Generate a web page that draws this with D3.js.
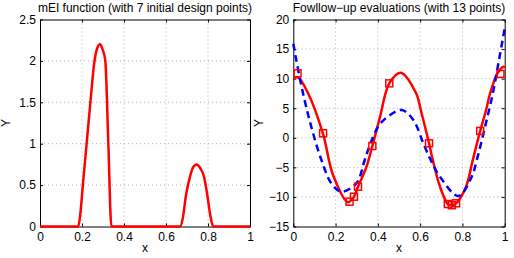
<!DOCTYPE html>
<html>
<head>
<meta charset="utf-8">
<script src="https://cdn.jsdelivr.net/npm/d3@7"></script>
<style>
  body { margin: 0; background: #fff; }
  svg text { font-family: "Liberation Sans", Arial, sans-serif; fill: #000; }
</style>
</head>
<body>
<svg id="chart" width="514" height="258"></svg>
<script>
// left panel: mEI function
const meiX = [0, 0.182, 0.192, 0.204, 0.222, 0.240, 0.258, 0.272, 0.286, 0.298, 0.311, 0.3255, 0.340,
  0.667, 0.68, 0.695, 0.714, 0.73, 0.746, 0.762, 0.781, 0.797, 0.812, 0.825, 1]
const meiY = [0, 0, 0.15, 0.5, 1.0, 1.5, 1.97, 2.15, 2.2, 2.14, 2.0, 1.0, 0,
  0, 0.1, 0.375, 0.6, 0.72, 0.75, 0.71, 0.6, 0.375, 0.12, 0, 0]

// right panel: fitted model (red)
const fitX = [0, 0.022, 0.07, 0.141, 0.188, 0.259, 0.287, 0.306, 0.346, 0.374, 0.41,
  0.454, 0.508, 0.581, 0.603, 0.623, 0.642, 0.66, 0.694, 0.731, 0.750, 0.770, 0.817, 0.849, 0.884, 0.912, 0.931,
  0.966, 0.994, 1]
const fitY = [10.06, 10.2, 7.52, 0.6, -6.3, -10.9, -9.96, -8.27, -4.9, -1.39, 3.5,
  9.2, 11.0, 7.52, 4.7, 1.87, -0.93, -3.76, -8.27, -11.2, -11.4, -11.08, -8.27, -3.76, 1.15, 4.7, 7.52,
  10.9, 12.0, 11.85]

// right panel: true function (blue dashed)
const trueX = [0, 0.014, 0.046, 0.085, 0.133, 0.18, 0.227, 0.298, 0.338, 0.365, 0.401, 0.434, 0.513, 0.568,
  0.615, 0.65, 0.694, 0.781, 0.844, 0.868, 0.907, 0.944, 0.973, 1]
const trueY = [15.9, 13.15, 7.52, 1.87, -3.76, -7.7, -9.1, -7.7, -3.76, -0.93, 1.87, 3.2, 4.7, 3.0,
  -0.93, -3.76, -6.58, -9.85, -6.58, -3.76, 1.87, 7.52, 13.15, 18.5]

// evaluated points (squares)
const ptX = [0.02, 0.141, 0.266, 0.287, 0.306, 0.374, 0.454, 0.642, 0.731, 0.750, 0.770, 0.884, 0.98]
const ptY = [10.9, 0.76, -10.8, -9.96, -8.27, -1.39, 9.2, -0.93, -11.2, -11.4, -11.08, 1.15, 10.8]

const xTicks = [0, 0.2, 0.4, 0.6, 0.8, 1]
const meiTicks = [0, 0.5, 1, 1.5, 2, 2.5]
const evalTicks = [-15, -10, -5, 0, 5, 10, 15, 20]

const svg = d3.select('#chart')

function panel(left, right, yDomain, yTicks, title) {
  const top = 19.5, bottom = 226.5
  const x = d3.scaleLinear().domain([0, 1]).range([left, right])
  const y = d3.scaleLinear().domain(yDomain).range([bottom, top])
  const g = svg.append('g')

  // dotted grid
  g.selectAll('.gx').data(xTicks.slice(1, -1)).join('line')
    .attr('x1', d => x(d)).attr('x2', d => x(d)).attr('y1', top).attr('y2', bottom)
    .attr('stroke', '#b0b0b0').attr('stroke-width', 1).attr('stroke-dasharray', '1,3')
  g.selectAll('.gy').data(yTicks.slice(1, -1)).join('line')
    .attr('y1', d => y(d)).attr('y2', d => y(d)).attr('x1', left).attr('x2', right)
    .attr('stroke', '#b0b0b0').attr('stroke-width', 1).attr('stroke-dasharray', '1,3')

  // axes, ticks inward on all four sides
  const fmt = d => d3.format('')(d).replace('-', '\u2212')
  g.append('g').attr('transform', `translate(0,${bottom})`)
    .call(d3.axisBottom(x).tickValues(xTicks).tickSizeInner(-3).tickSizeOuter(0).tickPadding(6).tickFormat(fmt))
  g.append('g').attr('transform', `translate(0,${top})`)
    .call(d3.axisTop(x).tickValues(xTicks).tickSizeInner(-3).tickSizeOuter(0).tickFormat(''))
  g.append('g').attr('transform', `translate(${left},0)`)
    .call(d3.axisLeft(y).tickValues(yTicks).tickSizeInner(-3).tickSizeOuter(0).tickPadding(4).tickFormat(fmt))
  g.append('g').attr('transform', `translate(${right},0)`)
    .call(d3.axisRight(y).tickValues(yTicks).tickSizeInner(-3).tickSizeOuter(0).tickFormat(''))
  g.selectAll('.domain').attr('stroke', '#000')
  g.selectAll('.tick line').attr('stroke', '#000')
  g.selectAll('.tick text').attr('font-size', 12).attr('fill', '#000')
    .attr('font-family', '"Liberation Sans", Arial, sans-serif')

  g.append('text').attr('x', (left + right) / 2).attr('y', 11.5).attr('text-anchor', 'middle')
    .attr('font-size', 12).text(title)
  g.append('text').attr('x', (left + right) / 2).attr('y', 252).attr('text-anchor', 'middle')
    .attr('font-size', 12).text('x')
  g.append('text').attr('transform', `translate(${left - 30},${(top + bottom) / 2}) rotate(-90)`)
    .attr('text-anchor', 'middle').attr('font-size', 12).text('Y')
  return { g, x, y }
}

const p1 = panel(40, 250, [0, 2.5], meiTicks, 'mEI function (with 7 initial design points)')
const line1 = d3.line().x(i => p1.x(meiX[i])).y(i => p1.y(meiY[i])).curve(d3.curveMonotoneX)
p1.g.append('path').datum(d3.range(meiX.length)).attr('d', line1)
  .attr('fill', 'none').attr('stroke', '#ff0000').attr('stroke-width', 2.5)

const p2 = panel(293.3, 504.7, [-15, 20], evalTicks, 'Fowllow\u2212up evaluations (with 13 points)')
const lineTrue = d3.line().x(i => p2.x(trueX[i])).y(i => p2.y(trueY[i])).curve(d3.curveCatmullRom.alpha(0.5))
const lineFit = d3.line().x(i => p2.x(fitX[i])).y(i => p2.y(fitY[i])).curve(d3.curveCatmullRom.alpha(0.5))
p2.g.append('path').datum(d3.range(fitX.length)).attr('d', lineFit)
  .attr('fill', 'none').attr('stroke', '#ff0000').attr('stroke-width', 2.5)
p2.g.append('path').datum(d3.range(trueX.length)).attr('d', lineTrue)
  .attr('fill', 'none').attr('stroke', '#0000ff').attr('stroke-width', 2.5).attr('stroke-dasharray', '7,4.5')
p2.g.selectAll('rect.pt').data(d3.range(ptX.length)).join('rect')
  .attr('x', i => p2.x(ptX[i]) - 3.5).attr('y', i => p2.y(ptY[i]) - 3.5)
  .attr('width', 7).attr('height', 7)
  .attr('fill', 'none').attr('stroke', '#ff0000').attr('stroke-width', 1.5)
</script>
</body>
</html>
